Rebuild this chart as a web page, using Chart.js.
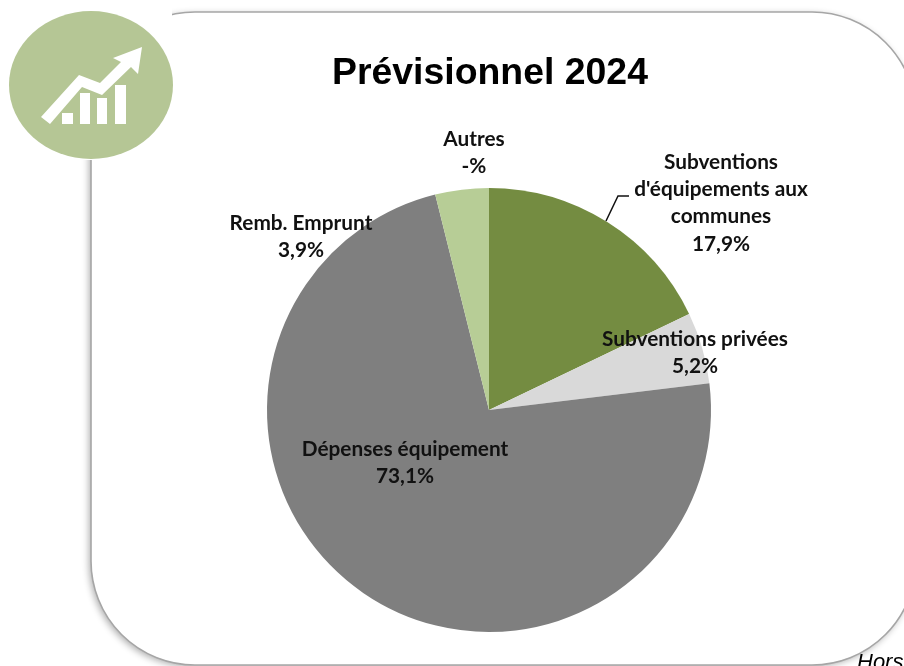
<!DOCTYPE html>
<html lang="fr">
<head>
<meta charset="utf-8">
<title>Prévisionnel 2024</title>
<style>
html,body{margin:0;padding:0;background:#fff;overflow:hidden}
canvas{display:block}
</style>
<script src="https://cdn.jsdelivr.net/npm/chart.js@4"></script>
</head>
<body>
<canvas id="c" width="904" height="666"></canvas>
<script>
const chartTitle = "Prévisionnel 2024";
const footNote = "Hors";
const categories = ["Subventions d'équipements aux communes", "Subventions privées", "Dépenses équipement", "Remb. Emprunt", "Autres"];
const labelLines = [["Subventions", "d'équipements aux", "communes"], ["Subventions privées"], ["Dépenses équipement"], ["Remb. Emprunt"], ["Autres"]];
const values = [17.9, 5.2, 73.1, 3.9, 0];
const sliceColors = ["#748c41", "#d9d9d9", "#7f7f7f", "#b7cd96", "#e2e2e2"];
const labelCenters = [[721, 162], [695, 339], [405, 449], [301, 223], [474, 139]];

const fmt = v => v === 0 ? "-%" : v.toFixed(1).replace(".", ",") + "%";

function decorate(ctx) {
  ctx.save();
  ctx.fillStyle = "#fff";
  ctx.fillRect(0, 0, 904, 666);
  // panel
  const L = 91, T = 12, R = 916, B = 665, r = 104;
  const panel = () => {
    ctx.beginPath();
    ctx.moveTo(L + r, T);
    ctx.lineTo(R - r, T);
    ctx.arc(R - r, T + r, r, -Math.PI / 2, 0);
    ctx.lineTo(R, B - r);
    ctx.arc(R - r, B - r, r, 0, Math.PI / 2);
    ctx.lineTo(L + r, B);
    ctx.arc(L + r, B - r, r, Math.PI / 2, Math.PI);
    ctx.lineTo(L, T + r);
    ctx.arc(L + r, T + r, r, Math.PI, Math.PI * 1.5);
    ctx.closePath();
  };
  ctx.save();
  ctx.shadowColor = "rgba(0,0,0,0.32)";
  ctx.shadowBlur = 7;
  ctx.shadowOffsetX = -2;
  ctx.shadowOffsetY = 2;
  panel();
  ctx.fillStyle = "#fff";
  ctx.fill();
  ctx.restore();
  panel();
  ctx.strokeStyle = "#a6a6a6";
  ctx.lineWidth = 1.6;
  ctx.stroke();
  // icon tile (white square hides the panel corner)
  ctx.fillStyle = "#fff";
  ctx.fillRect(0, 0, 172, 160);
  ctx.fillStyle = "#b5c695";
  ctx.beginPath();
  ctx.ellipse(91, 85, 82, 74, 0, 0, Math.PI * 2);
  ctx.fill();
  ctx.fillStyle = "#fff";
  [[62, 113, 11, 11], [80, 93, 10, 31], [97, 98, 10, 26], [115, 85, 11, 39]].forEach(b => ctx.fillRect(...b));
  ctx.beginPath();
  ctx.moveTo(41, 117);
  ctx.lineTo(79, 75);
  ctx.lineTo(100, 83);
  ctx.lineTo(121, 62);
  ctx.lineTo(113, 58);
  ctx.lineTo(142, 47);
  ctx.lineTo(138, 74);
  ctx.lineTo(131, 67);
  ctx.lineTo(102, 95);
  ctx.lineTo(82, 87);
  ctx.lineTo(50, 124);
  ctx.closePath();
  ctx.fill();
  ctx.restore();
}

const overlay = {
  id: "overlay",
  beforeDraw(chart) { decorate(chart.ctx); },
  afterDraw(chart) {
    const ctx = chart.ctx;
    ctx.save();
    // title
    ctx.fillStyle = "#000";
    ctx.textAlign = "center";
    ctx.textBaseline = "middle";
    ctx.font = "bold 37.4px 'Liberation Sans'";
    ctx.fillText(chartTitle, 490, 74);
    // leader line
    ctx.strokeStyle = "#111";
    ctx.lineWidth = 1.5;
    ctx.beginPath();
    ctx.moveTo(606, 221);
    ctx.lineTo(618, 196);
    ctx.lineTo(629, 196);
    ctx.stroke();
    // data labels
    ctx.font = "bold 20.8px Lato";
    ctx.fillStyle = "#111";
    categories.forEach((_, i) => {
      const lines = [...labelLines[i], fmt(values[i])];
      lines.forEach((t, k) => ctx.fillText(t, labelCenters[i][0], labelCenters[i][1] + k * 27.3));
    });
    // cropped foot note
    ctx.textAlign = "left";
    ctx.textBaseline = "alphabetic";
    ctx.font = "italic 22px 'Liberation Sans'";
    ctx.fillStyle = "#000";
    ctx.fillText(footNote, 857, 669);
    ctx.restore();
  }
};

new Chart(document.getElementById("c"), {
  type: "pie",
  data: {
    labels: categories,
    datasets: [{ data: values, backgroundColor: sliceColors, borderWidth: 0 }]
  },
  options: {
    responsive: false,
    animation: false,
    layout: { padding: { left: 267, right: 193, top: 188, bottom: 34 } },
    plugins: { legend: { display: false }, tooltip: { enabled: false }, title: { display: false } }
  },
  plugins: [overlay]
});
</script>
</body>
</html>
